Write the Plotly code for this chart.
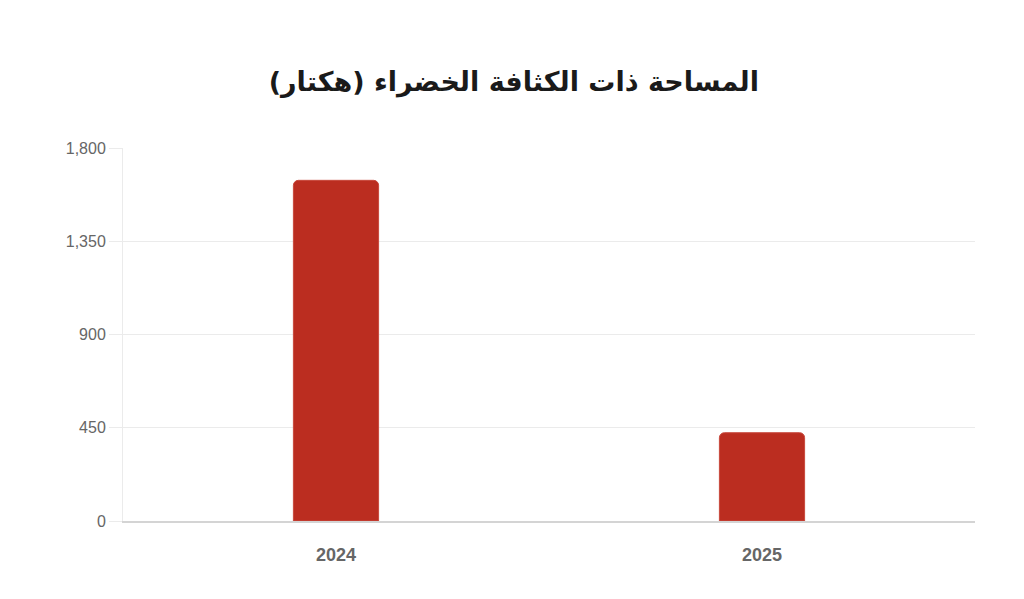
import plotly.graph_objects as go

years = ["2024", "2025"]
area_ha = [1644, 426]
y_ticks = [0, 450, 900, 1350, 1800]
y_labels = ["0", "450", "900", "1,350", "1,800"]

fig = go.Figure()
fig.add_trace(go.Bar(
    x=years,
    y=area_ha,
    width=0.2,
    marker=dict(color="#bb2d20", line=dict(color="#c8483c", width=1), cornerradius=5),
    hoverinfo="x+y",
))

# page body adds ~8px margin, so offsets are pulled back accordingly
fig.update_layout(
    width=1024, height=599,
    margin=dict(l=115, r=57, t=140, b=86),
    paper_bgcolor="white",
    plot_bgcolor="white",
    showlegend=False,
    title=dict(
        text="<b>المساحة ذات الكثافة الخضراء (هكتار)</b>",
        x=0.494, xanchor="center", y=0.877, yanchor="middle",
        font=dict(family="DejaVu Sans", size=27, color="#1a1a1a"),
    ),
)

fig.update_xaxes(
    showgrid=False,
    showline=True, linecolor="#d4d4d4", linewidth=2,
    ticks="", tickfont=dict(family="Liberation Sans", size=18, color="#666666", weight="bold"),
    ticklabelstandoff=16,
)
fig.update_yaxes(
    range=[0, 1800],
    tickvals=y_ticks, ticktext=y_labels,
    showgrid=True, gridcolor="#ebebeb", gridwidth=1,
    showline=True, linecolor="#ebebeb", linewidth=1,
    ticks="outside", ticklen=13, tickcolor="#ebebeb",
    tickfont=dict(family="Liberation Sans", size=16, color="#666666"),
    zeroline=False,
)

fig.write_html("out.html")
